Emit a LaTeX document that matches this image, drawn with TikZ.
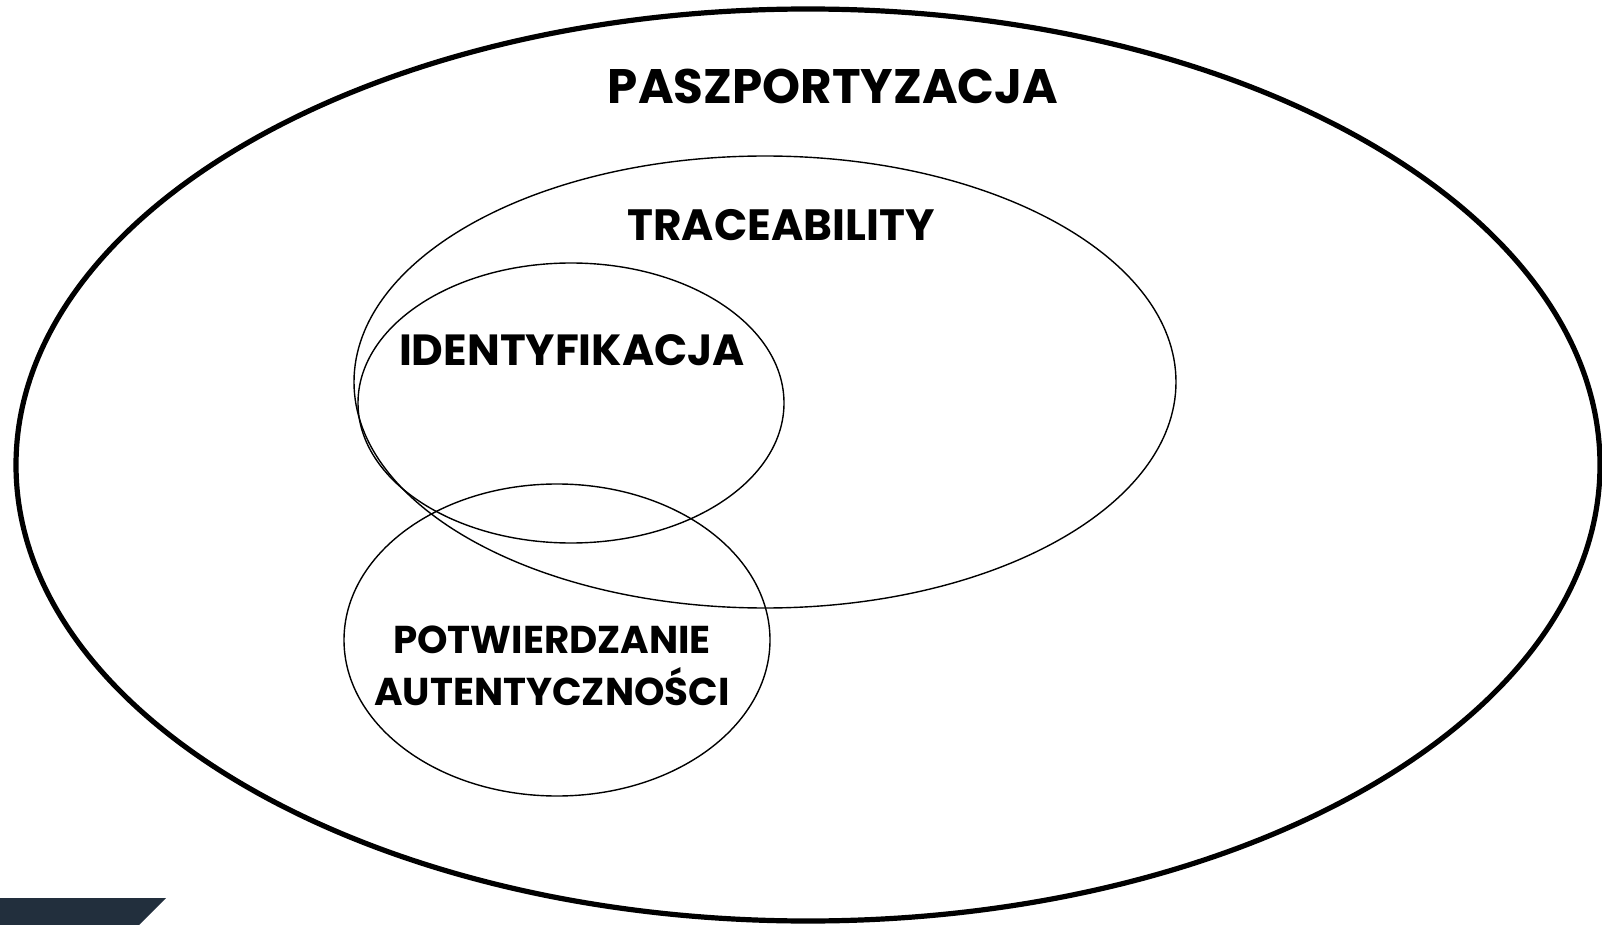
\documentclass[tikz,border=0pt]{standalone}
\usepackage{fontspec}
\setmainfont{Poppins}
\usetikzlibrary{calc}
\definecolor{granat}{HTML}{222F3D}
\tikzset{
  zbior/.style={draw, line width=0.7pt},
  napis/.style={inner sep=0pt, align=center, anchor=base}
}

\begin{document}
\begin{tikzpicture}[x=0.5pt, y=-0.5pt]
    \useasboundingbox (0,0) rectangle (1602,925);
    % sets
    \path[draw, line width=2.6pt](808,465)ellipse[x radius=792, y radius=456];
    \path[zbior](765,382)ellipse[x radius=411, y radius=226];
    \path[zbior](571,403)ellipse[x radius=213, y radius=140];
    \path[zbior](557,640)ellipse[x radius=213, y radius=156];
    % labels
    \node[napis, font=\bfseries\fontsize{24.2}{26}\selectfont](pasz)at(833,104){PASZPORTYZACJA};
    \node[napis, font=\bfseries\fontsize{21.9}{26}\selectfont](trace)at(781,241){TRACEABILITY};
    \node[napis, font=\bfseries\fontsize{21.8}{26}\selectfont](ident)at(572,365){IDENTYFIKACJA};
    \node[napis, font=\bfseries\fontsize{19.4}{26}\selectfont](auth)at(552,705){POTWIERDZANIE\\AUTENTYCZNOŚCI};
    % corner
    \path[fill=granat](0,898)--(166,898)--(139,925)--(0,925)--cycle;
\end{tikzpicture}
\end{document}
